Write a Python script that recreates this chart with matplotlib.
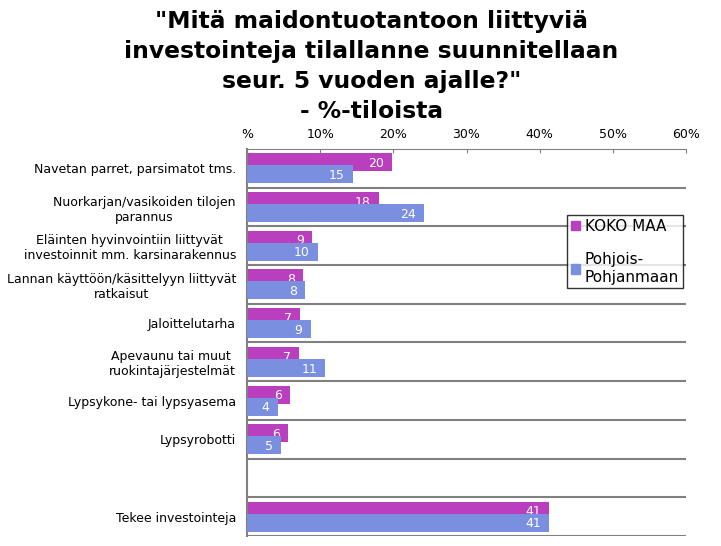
import numpy as np
from matplotlib import pyplot as plt

categories = [
    "Navetan parret, parsimatot tms.",
    "Nuorkarjan/vasikoiden tilojen\nparannus",
    "Eläinten hyvinvointiin liittyvät\ninvestoinnit mm. karsinarakennus",
    "Lannan käyttöön/käsittelyyn liittyvät\nratkaisut",
    "Jaloittelutarha",
    "Apevaunu tai muut \nruokintajärjestelmät",
    "Lypsykone- tai lypsyasema",
    "Lypsyrobotti",
    "",
    "Tekee investointeja",
]
koko_maa = [19.8, 18.0, 8.9, 7.7, 7.2, 7.1, 5.9, 5.6, None, 41.3]
pohjois = [14.5, 24.2, 9.7, 7.9, 8.7, 10.7, 4.2, 4.6, None, 41.3]
koko_maa_labels = ["20", "18", "9", "8", "7", "7", "6", "6", "", "41"]
pohjois_labels = ["15", "24", "10", "8", "9", "11", "4", "5", "", "41"]
series_names = ["KOKO MAA", "Pohjois-\nPohjanmaan"]
xticks = [0, 10, 20, 30, 40, 50, 60]
xtick_labels = ["%", "10%", "20%", "30%", "40%", "50%", "60%"]

title = ('"Mitä maidontuotantoon liittyviä\ninvestointeja tilallanne suunnitellaan\n'
         'seur. 5 vuoden ajalle?"\n- %-tiloista')

MAGENTA = "#BA3FBF"
BLUE = "#7A8FE0"
GRID = "#808080"

fig = plt.figure(figsize=(7.21, 5.46), dpi=100)
ax = fig.add_axes([247 / 721, 1 - 536 / 546, (686 - 247) / 721, (536 - 149) / 546])

h = 0.465
off = 0.155
y = np.arange(len(categories))

for i, (a, b) in enumerate(zip(koko_maa, pohjois)):
    if a is None:
        continue
    ax.barh(i - off, a, height=h, color=MAGENTA, zorder=2)
    ax.text(a - 1.1, i - off + 0.03, koko_maa_labels[i], color="white", fontsize=9,
            ha="right", va="center", zorder=3)
    ax.barh(i + off, b, height=h, color=BLUE, zorder=4)
    ax.text(b - 1.1, i + off + 0.03, pohjois_labels[i], color="white", fontsize=9,
            ha="right", va="center", zorder=5)

for k in range(len(categories)):
    ax.axhline(k + 0.5, color=GRID, lw=1.5, zorder=1)

ax.set_xlim(0, 60)
ax.set_ylim(len(categories) - 0.5, -0.5)
ax.set_yticks(y)
ax.set_yticklabels(categories, fontsize=9, multialignment="center")
ax.tick_params(axis="y", length=0, pad=8)
ax.xaxis.tick_top()
ax.set_xticks(xticks)
ax.set_xticklabels(xtick_labels, fontsize=9)
ax.tick_params(axis="x", direction="in", length=3, color=GRID, pad=6)

for side in ["right", "bottom"]:
    ax.spines[side].set_visible(False)
ax.spines["left"].set_color(GRID)
ax.spines["left"].set_linewidth(1.5)
ax.spines["top"].set_color(GRID)
ax.spines["top"].set_linestyle((0, (2, 1)))

handles = [plt.Rectangle((0, 0), 1, 1, color=MAGENTA),
           plt.Rectangle((0, 0), 1, 1, color=BLUE)]
leg = fig.legend(handles, series_names, loc="upper left",
                 bbox_to_anchor=(567 / 721, 1 - 215 / 546), fontsize=11,
                 frameon=True, fancybox=False, handlelength=0.6, handleheight=0.6,
                 handletextpad=0.3, borderpad=0.25, labelspacing=1.2, borderaxespad=0)
leg.get_frame().set_edgecolor("black")
leg.get_frame().set_linewidth(1)

fig.text(0.515, 0.982, title, ha="center", va="top", fontsize=16.8,
         fontweight="bold", linespacing=1.4)

fig.savefig("out.png", dpi=100)
